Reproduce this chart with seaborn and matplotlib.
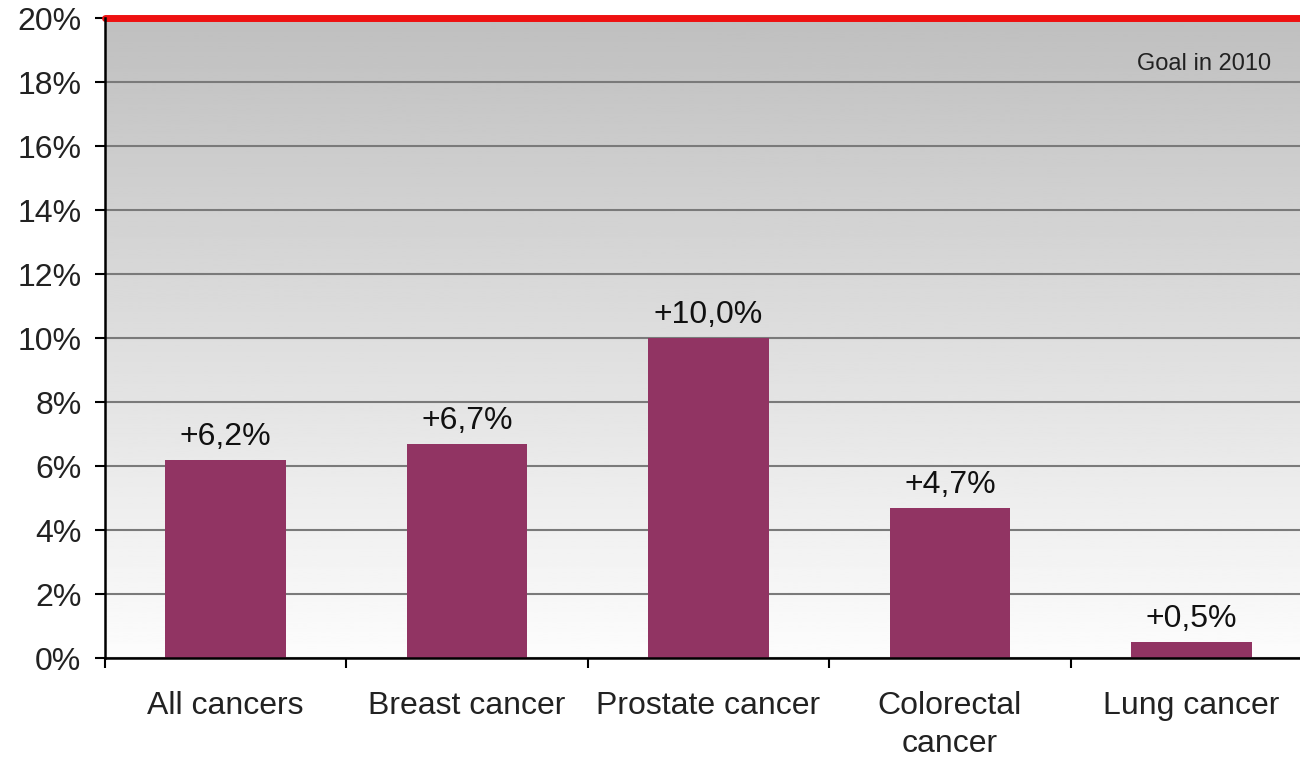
import numpy as np
import matplotlib
matplotlib.use("Agg")
import matplotlib.pyplot as plt
import seaborn as sns

categories = ["All cancers", "Breast cancer", "Prostate cancer", "Colorectal\ncancer", "Lung cancer"]
values = [6.2, 6.7, 10.0, 4.7, 0.5]
value_labels = ["+6,2%", "+6,7%", "+10,0%", "+4,7%", "+0,5%"]
goal = 20
yticks = list(range(0, 21, 2))

sns.set_theme(style="white")
plt.rcParams['font.family'] = ['Liberation Sans', 'DejaVu Sans']

fig = plt.figure(figsize=(13, 7.61), dpi=100)
ax = fig.add_axes([105 / 1300, 1 - 658 / 761, 1207 / 1300, 640 / 761])

# grey-to-white gradient background
grad = np.linspace(0.99, 0.75, 256).reshape(-1, 1)
ax.imshow(grad, cmap="gray", vmin=0, vmax=1, aspect="auto",
          extent=(-0.5, 4.5, 0, 20), origin="lower", zorder=0)

sns.barplot(x=categories, y=values, color="#913463", width=0.5,
            saturation=1, linewidth=0, ax=ax, zorder=3)

for i, (v, lab) in enumerate(zip(values, value_labels)):
    ax.text(i, v + 0.25, lab, ha="center", va="bottom", fontsize=23,
            color="#111111", zorder=4)

ax.set_xlim(-0.5, 4.5)
ax.set_ylim(0, 20)
ax.set_yticks(yticks)
ax.set_yticklabels([f"{t}%" for t in yticks], fontsize=23, color="#222222")
ax.yaxis.grid(True, color="#7a7a7a", linewidth=1.5, zorder=1)
ax.set_axisbelow(True)
ax.axhline(goal, color="#ee1111", linewidth=5, zorder=5, clip_on=False)
ax.text(4.33, 18.55, "Goal in 2010", ha="right", va="center", fontsize=17,
        color="#222222", zorder=4)

ax.tick_params(axis="x", which="major", length=0, pad=24, labelsize=23,
               labelcolor="#222222")
for t in ax.get_xticklabels():
    t.set_linespacing(1.35)
ax.set_xticks(np.arange(-0.5, 5.0, 1.0), minor=True)
ax.tick_params(axis="x", which="minor", length=7, width=1.5, color="black",
               direction="out", bottom=True)
ax.tick_params(axis="y", length=7, width=1.5, color="black", direction="out",
               left=True, pad=10)
ax.set_xlabel("")
ax.set_ylabel("")

for s in ["top", "right"]:
    ax.spines[s].set_visible(False)
for s in ["left", "bottom"]:
    ax.spines[s].set_color("black")
    ax.spines[s].set_linewidth(1.8)
    ax.spines[s].set_zorder(6)

fig.savefig("out.png", dpi=100)
